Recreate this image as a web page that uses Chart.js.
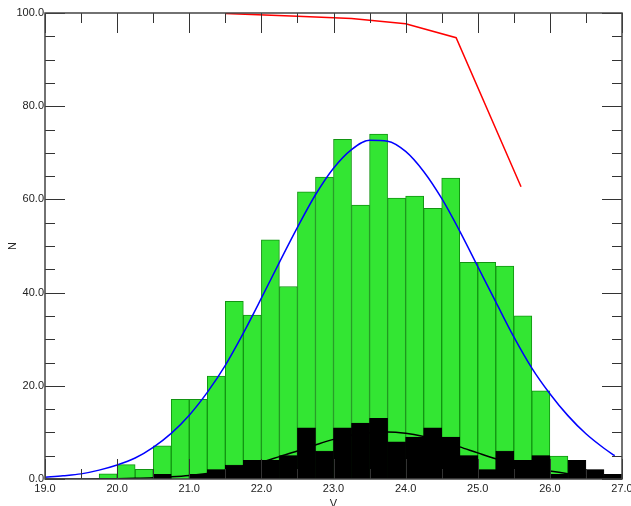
<!DOCTYPE html>
<html>
<head>
<meta charset="utf-8">
<title>V histogram</title>
<script src="https://cdn.jsdelivr.net/npm/chart.js@4.4.0/dist/chart.umd.min.js"></script>
<style>
  html, body { margin: 0; padding: 0; background: #fff; }
  #wrap { width: 631px; height: 506px; position: relative; }
</style>
</head>
<body>
<div id="wrap"><canvas id="histChart"></canvas></div>
<script>
// bins of 0.25 in V (left edges)
const binLeft = [19.75, 20.0, 20.25, 20.5, 20.75, 21.0, 21.25, 21.5, 21.75, 22.0,
                 22.25, 22.5, 22.75, 23.0, 23.25, 23.5, 23.75, 24.0, 24.25, 24.5,
                 24.75, 25.0, 25.25, 25.5, 25.75, 26.0, 26.25, 26.5, 26.75];
const binWidth = 0.25;

// all objects (green) and the selected subset (black)
const allCounts = [1.1, 3.1, 2.1, 7.1, 17.1, 17.1, 22.1, 38.1, 35.2, 51.3,
                   41.3, 61.6, 64.8, 72.9, 58.8, 74.0, 60.3, 60.7, 58.1, 64.6,
                   46.5, 46.5, 45.7, 35.0, 18.9, 4.9, 0, 0, 0];
const subCounts = [0, 0, 0, 1, 0, 1, 2, 3, 4, 4,
                   5, 11, 6, 11, 12, 13, 8, 9, 11, 9,
                   5, 2, 6, 4, 5, 1, 4, 2, 1];

// gaussian fits
const fitX     = [19.0, 19.25, 19.5, 19.75, 20.0, 20.25, 20.5, 20.75, 21.0, 21.25,
                  21.5, 21.75, 22.0, 22.25, 22.5, 22.75, 23.0, 23.25, 23.5, 23.75,
                  24.0, 24.25, 24.5, 24.75, 25.0, 25.25, 25.5, 25.75, 26.0, 26.25,
                  26.5, 26.75, 26.9];
const allFit   = [0.4, 0.7, 1.1, 1.9, 3.0, 4.5, 6.8, 9.8, 13.7, 18.6,
                  24.4, 31.3, 38.8, 46.5, 54.0, 61.0, 66.7, 70.7, 72.7, 72.5,
                  70.3, 66.0, 60.2, 53.2, 45.6, 38.0, 30.5, 23.8, 18.3, 13.6,
                  9.7, 6.6, 5.0];
const subFit   = [0.0, 0.0, 0.02, 0.04, 0.08, 0.15, 0.27, 0.47, 0.76, 1.2,
                  1.8, 2.6, 3.6, 4.8, 6.0, 7.3, 8.5, 9.4, 9.95, 10.1,
                  9.8, 9.1, 8.1, 6.9, 5.6, 4.35, 3.3, 2.4, 1.7, 1.15,
                  0.75, 0.45, 0.33];

// completeness (%)
const complX = [21.5, 22.5, 23.25, 24.0, 24.7, 25.6];
const complY = [99.9, 99.3, 98.8, 97.7, 94.7, 62.7];

const xTicks = [19, 20, 21, 22, 23, 24, 25, 26, 27];
const yTicks = [0, 20, 40, 60, 80, 100];

const FONT = { family: "'Liberation Sans', Arial, sans-serif", size: 11 };
const INK = '#222';

const toPts = (xs, ys, shift) => xs.map((v, i) => ({ x: v + (shift || 0), y: ys[i] }));

// inward ticks on all four sides + frame
const frameTicks = {
    id: 'frameTicks',
    afterDraw(chart) {
        const { ctx, chartArea: a, scales: { x, y } } = chart;
        ctx.save();
        ctx.strokeStyle = '#333';
        ctx.lineWidth = 1;
        ctx.beginPath();
        for (let v = xTicks[0]; v <= xTicks[xTicks.length - 1] + 1e-6; v += 0.5) {
            const px = Math.round(x.getPixelForValue(v)) + 0.5;
            const len = Math.abs(v - Math.round(v)) < 1e-6 ? 20 : 10;
            ctx.moveTo(px, a.bottom); ctx.lineTo(px, a.bottom - len);
            ctx.moveTo(px, a.top); ctx.lineTo(px, a.top + len);
        }
        for (let v = yTicks[0]; v <= yTicks[yTicks.length - 1] + 1e-6; v += 5) {
            const py = Math.round(y.getPixelForValue(v)) + 0.5;
            const len = v % 20 === 0 ? 20 : 10;
            ctx.moveTo(a.left, py); ctx.lineTo(a.left + len, py);
            ctx.moveTo(a.right, py); ctx.lineTo(a.right - len, py);
        }
        ctx.stroke();
        ctx.lineWidth = 1.5;
        ctx.strokeStyle = '#444';
        ctx.strokeRect(a.left, a.top, a.right - a.left, a.bottom - a.top);
        ctx.restore();
    }
};

const ctx = document.getElementById('histChart');
new Chart(ctx, {
    type: 'bar',
    data: {
        datasets: [
            {
                type: 'line',
                label: 'completeness',
                data: toPts(complX, complY),
                borderColor: '#ff0000',
                borderWidth: 1.5,
                pointRadius: 0,
                tension: 0,
                order: 1
            },
            {
                type: 'line',
                label: 'fit all',
                data: toPts(fitX, allFit),
                borderColor: '#0000ff',
                borderWidth: 1.5,
                pointRadius: 0,
                cubicInterpolationMode: 'monotone',
                order: 2
            },
            {
                type: 'line',
                label: 'fit subset',
                data: toPts(fitX, subFit),
                borderColor: '#000000',
                borderWidth: 1.5,
                pointRadius: 0,
                cubicInterpolationMode: 'monotone',
                order: 3
            },
            {
                label: 'subset',
                data: toPts(binLeft, subCounts, binWidth / 2),
                backgroundColor: '#000000',
                borderColor: '#000000',
                borderWidth: 0.5,
                grouped: false,
                barPercentage: 1,
                categoryPercentage: 1,
                order: 4
            },
            {
                label: 'all',
                data: toPts(binLeft, allCounts, binWidth / 2),
                backgroundColor: '#33e633',
                borderColor: '#129412',
                borderWidth: 1,
                grouped: false,
                barPercentage: 1,
                categoryPercentage: 1,
                order: 5
            }
        ]
    },
    options: {
        responsive: true,
        maintainAspectRatio: false,
        animation: false,
        layout: { padding: { top: 13, right: 9, left: 0, bottom: 0 } },
        plugins: {
            legend: { display: false },
            tooltip: { enabled: false }
        },
        scales: {
            x: {
                type: 'linear',
                min: 19,
                max: 27,
                offset: false,
                grid: { display: false, drawTicks: false },
                border: { display: false },
                afterBuildTicks: s => { s.ticks = xTicks.map(v => ({ value: v })); },
                ticks: {
                    color: INK,
                    font: FONT,
                    padding: 3,
                    maxRotation: 0,
                    autoSkip: false,
                    callback: v => v.toFixed(1)
                },
                title: { display: true, text: 'V', color: INK, font: FONT, padding: { top: 0, bottom: -5 } },
                afterFit: s => { s.height = 27; s.paddingLeft = 0; s.paddingRight = 0; }
            },
            y: {
                min: 0,
                max: 100,
                grid: { display: false, drawTicks: false },
                border: { display: false },
                afterBuildTicks: s => { s.ticks = yTicks.map(v => ({ value: v })); },
                ticks: {
                    color: INK,
                    font: FONT,
                    padding: 1,
                    callback: v => v.toFixed(1)
                },
                title: { display: true, text: 'N', color: INK, font: FONT, padding: { top: 6, bottom: 0 } },
                afterFit: s => { s.width = 45; s.paddingTop = 0; s.paddingBottom = 0; }
            }
        }
    },
    plugins: [frameTicks]
});
</script>
</body>
</html>
